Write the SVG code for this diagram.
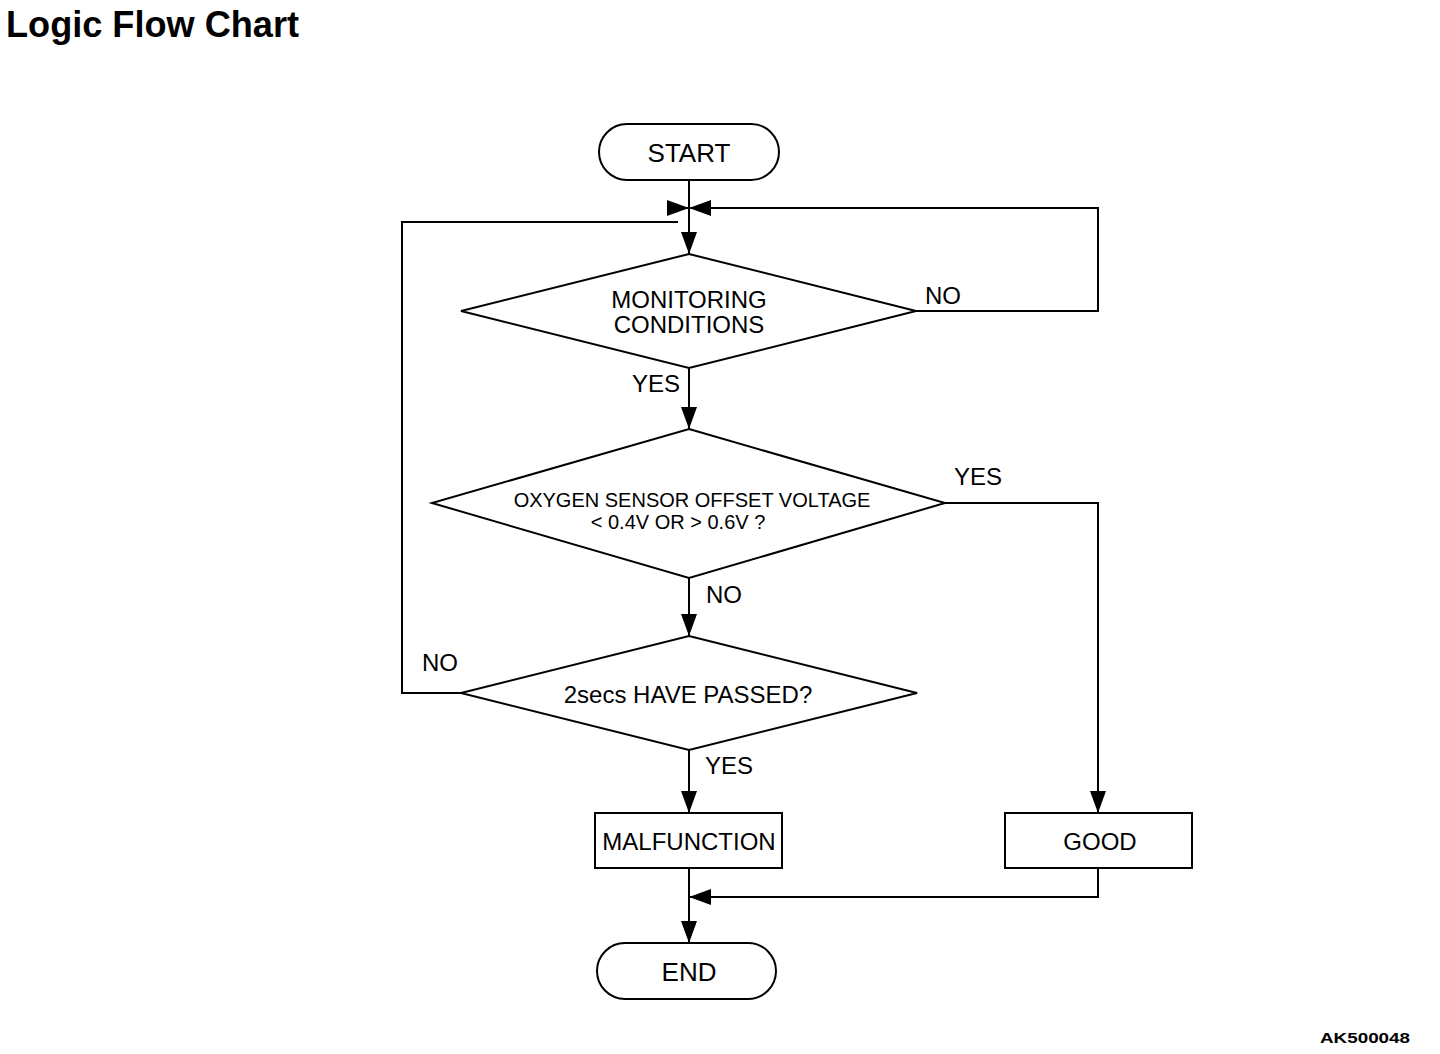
<svg xmlns="http://www.w3.org/2000/svg" width="1440" height="1054" viewBox="0 0 1440 1054">
<style>
.shape{fill:#fff;stroke:#000;stroke-width:2}
.line{fill:none;stroke:#000;stroke-width:2}
.t{font-family:"Liberation Sans",Arial,sans-serif;font-size:24px;fill:#000;text-anchor:middle}
.s{font-size:20px}
.big{font-size:26px}
.lbl{font-family:"Liberation Sans",Arial,sans-serif;font-size:24px;fill:#000}
.b{font-family:"Liberation Sans",Arial,sans-serif;font-weight:bold;fill:#000}
</style>
<defs>
<marker id="arr" markerUnits="userSpaceOnUse" markerWidth="22" markerHeight="16" refX="22" refY="8" orient="auto">
<path d="M0,0 L22,8 L0,16 z" fill="#000"/>
</marker>
</defs>
<rect width="1440" height="1054" fill="#fff"/>
<text class="b" x="6" y="37" font-size="36" textLength="293" lengthAdjust="spacingAndGlyphs">Logic Flow Chart</text>
<text class="b" x="1320" y="1043" font-size="15" textLength="90" lengthAdjust="spacingAndGlyphs">AK500048</text>

<g id="connectors">
<path class="line" d="M689,180 V254" marker-end="url(#arr)"/>
<path class="line" d="M916,311 H1098 V208 H689" marker-end="url(#arr)"/>
<path class="line" d="M461,693 H402 V222 H678"/>
<path class="line" d="M667,208 H689" marker-end="url(#arr)"/>
<path class="line" d="M689,368 V429" marker-end="url(#arr)"/>
<path class="line" d="M945,503 H1098 V813" marker-end="url(#arr)"/>
<path class="line" d="M689,578 V636" marker-end="url(#arr)"/>
<path class="line" d="M689,750 V813" marker-end="url(#arr)"/>
<path class="line" d="M689,868 V943" marker-end="url(#arr)"/>
<path class="line" d="M1098,868 V897 H689" marker-end="url(#arr)"/>
<text class="lbl" x="925" y="304">NO</text>
<text class="lbl" x="632" y="392">YES</text>
<text class="lbl" x="954" y="485">YES</text>
<text class="lbl" x="706" y="603">NO</text>
<text class="lbl" x="422" y="671">NO</text>
<text class="lbl" x="705" y="774">YES</text>
</g>

<g id="start">
<rect class="shape" x="599" y="124" width="180" height="56" rx="28" ry="28"/>
<text class="t big" x="689" y="162">START</text>
</g>
<g id="monitoring">
<polygon class="shape" points="689,254 916,311 689,368 461,311"/>
<text class="t" x="689" y="308">MONITORING</text>
<text class="t" x="689" y="333">CONDITIONS</text>
</g>
<g id="offset">
<polygon class="shape" points="689,429 945,503 689,578 432,503"/>
<text class="t s" x="692" y="507">OXYGEN SENSOR OFFSET VOLTAGE</text>
<text class="t s" x="678" y="529">&lt; 0.4V OR &gt; 0.6V ?</text>
</g>
<g id="passed">
<polygon class="shape" points="689,636 917,693 689,750 461,693"/>
<text class="t" x="688" y="703">2secs HAVE PASSED?</text>
</g>
<g id="malfunction">
<rect class="shape" x="595" y="813" width="187" height="55"/>
<text class="t" x="689" y="850">MALFUNCTION</text>
</g>
<g id="good">
<rect class="shape" x="1005" y="813" width="187" height="55"/>
<text class="t" x="1100" y="850">GOOD</text>
</g>
<g id="end">
<rect class="shape" x="597" y="943" width="179" height="56" rx="28" ry="28"/>
<text class="t big" x="689" y="981">END</text>
</g>
</svg>
